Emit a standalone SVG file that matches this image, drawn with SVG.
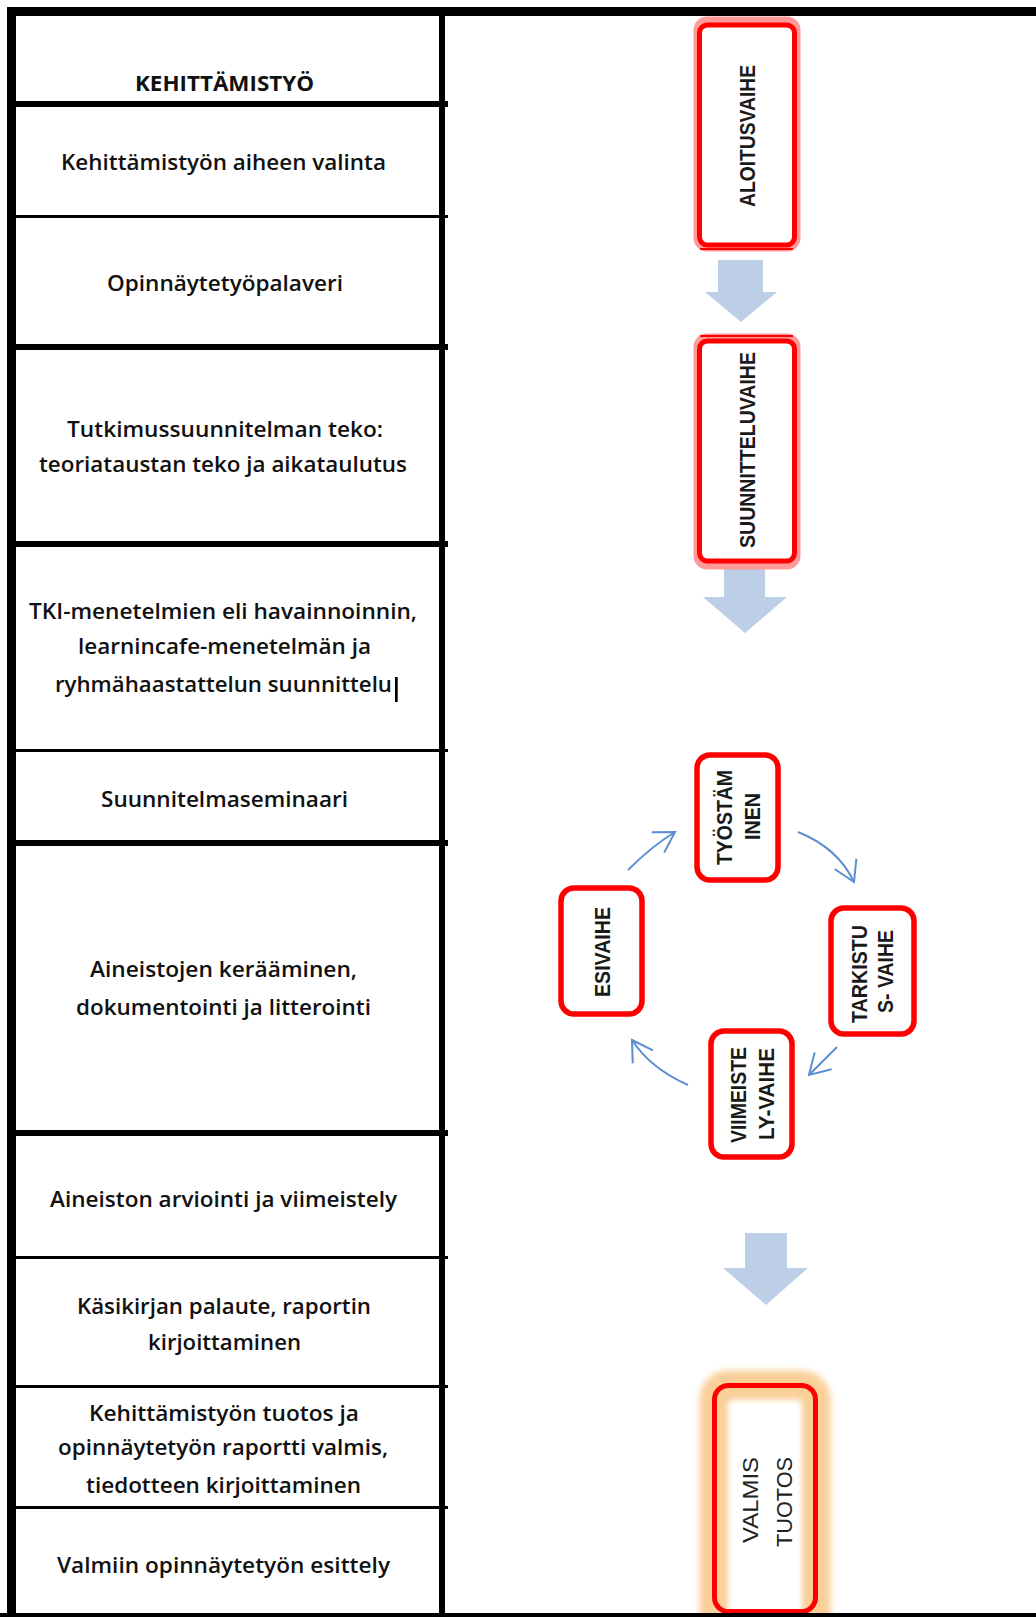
<svg xmlns="http://www.w3.org/2000/svg" width="1036" height="1617" viewBox="0 0 1036 1617">
<style>
.cell{font-family:"Open Sans","Liberation Sans",sans-serif;font-size:21px;font-weight:600;fill:#111}
.hdr{font-weight:700}
.vt{font-family:"Liberation Sans Narrow","Liberation Sans",sans-serif;font-size:22px;font-weight:700;fill:#1a1a1a}
.vt2{font-family:"Liberation Sans Narrow","Liberation Sans",sans-serif;font-size:22px;fill:#222}
.halo{fill:none;stroke:#ff9a9a;stroke-width:9}
.red{fill:#fff;stroke:#ff0000;stroke-width:5}
.redc{fill:#fff;stroke:#ff0000;stroke-width:5.5}
.blk{fill:#bdcfe7}
.cyc{fill:none;stroke:#5b8fd1;stroke-width:2;marker-end:url(#open)}
</style>
<defs>
<marker id="open" markerUnits="userSpaceOnUse" markerWidth="26" markerHeight="28" refX="21" refY="13" orient="auto">
<path d="M1,1 L21,13 L1,25" fill="none" stroke="#5b8fd1" stroke-width="2"/>
</marker>
<filter id="glow" x="-30%" y="-30%" width="160%" height="160%"><feGaussianBlur stdDeviation="3"/></filter>
</defs>
<rect width="1036" height="1617" fill="#fff"/>

<g id="table">
<rect x="7" y="7" width="1029" height="9" fill="#000"/>
<rect x="7" y="7" width="9" height="1610" fill="#000"/>
<rect x="439" y="16" width="6" height="1597" fill="#000"/>
<rect x="16" y="101" width="432" height="6" fill="#000"/>
<rect x="16" y="215" width="432" height="3" fill="#000"/>
<rect x="16" y="344" width="432" height="6" fill="#000"/>
<rect x="16" y="541" width="432" height="6" fill="#000"/>
<rect x="16" y="749" width="432" height="3" fill="#000"/>
<rect x="16" y="840" width="432" height="6" fill="#000"/>
<rect x="16" y="1130" width="432" height="6" fill="#000"/>
<rect x="16" y="1256" width="432" height="3" fill="#000"/>
<rect x="16" y="1385" width="432" height="3" fill="#000"/>
<rect x="16" y="1506" width="432" height="3" fill="#000"/>
</g>

<g id="row-header"><text class="cell hdr" x="135" y="91" textLength="179" lengthAdjust="spacingAndGlyphs">KEHITTÄMISTYÖ</text></g>
<g id="row-1"><text class="cell" x="61" y="170" textLength="325" lengthAdjust="spacingAndGlyphs">Kehittämistyön aiheen valinta</text></g>
<g id="row-2"><text class="cell" x="107" y="291" textLength="236" lengthAdjust="spacingAndGlyphs">Opinnäytetyöpalaveri</text></g>
<g id="row-3">
<text class="cell" x="67" y="437" textLength="316" lengthAdjust="spacingAndGlyphs">Tutkimussuunnitelman teko:</text>
<text class="cell" x="39" y="472" textLength="368" lengthAdjust="spacingAndGlyphs">teoriataustan teko ja aikataulutus</text>
</g>
<g id="row-4">
<text class="cell" x="29" y="619" textLength="388" lengthAdjust="spacingAndGlyphs">TKI-menetelmien eli havainnoinnin,</text>
<text class="cell" x="78" y="654" textLength="293" lengthAdjust="spacingAndGlyphs">learnincafe-menetelmän ja</text>
<text class="cell" x="55" y="692" textLength="337" lengthAdjust="spacingAndGlyphs">ryhmähaastattelun suunnittelu</text>
<rect x="395" y="677" width="2.7" height="25" fill="#000"/>
</g>
<g id="row-5"><text class="cell" x="101" y="807" textLength="247" lengthAdjust="spacingAndGlyphs">Suunnitelmaseminaari</text></g>
<g id="row-6">
<text class="cell" x="90" y="977" textLength="267" lengthAdjust="spacingAndGlyphs">Aineistojen kerääminen,</text>
<text class="cell" x="76" y="1015" textLength="295" lengthAdjust="spacingAndGlyphs">dokumentointi ja litterointi</text>
</g>
<g id="row-7"><text class="cell" x="50" y="1207" textLength="347" lengthAdjust="spacingAndGlyphs">Aineiston arviointi ja viimeistely</text></g>
<g id="row-8">
<text class="cell" x="77" y="1314" textLength="294" lengthAdjust="spacingAndGlyphs">Käsikirjan palaute, raportin</text>
<text class="cell" x="148" y="1350" textLength="153" lengthAdjust="spacingAndGlyphs">kirjoittaminen</text>
</g>
<g id="row-9">
<text class="cell" x="89" y="1421" textLength="270" lengthAdjust="spacingAndGlyphs">Kehittämistyön tuotos ja</text>
<text class="cell" x="58" y="1455" textLength="330" lengthAdjust="spacingAndGlyphs">opinnäytetyön raportti valmis,</text>
<text class="cell" x="86" y="1493" textLength="275" lengthAdjust="spacingAndGlyphs">tiedotteen kirjoittaminen</text>
</g>
<g id="row-10"><text class="cell" x="57" y="1573" textLength="333" lengthAdjust="spacingAndGlyphs">Valmiin opinnäytetyön esittely</text></g>

<g id="connectors">
<path class="blk" d="M718,260 H763 V292 H777 L741,322 L705,292 H718 Z"/>
<path class="blk" d="M724,556 H765 V597 H787 L745,633 L703,597 H724 Z"/>
<path class="blk" d="M745,1233 H787 V1268 H808 L766,1305 L723,1268 H745 Z"/>
<path class="cyc" d="M628,870 Q652,846 675,832"/>
<path class="cyc" d="M798,832 Q838,848 854,882"/>
<path class="cyc" d="M837,1047 L809,1075"/>
<path class="cyc" d="M688,1085 Q650,1068 632,1040"/>
</g>

<g id="aloitusvaihe">
<rect class="halo" x="698" y="21" width="98" height="226" rx="9"/>
<rect class="red" x="699.5" y="25" width="95" height="220" rx="8"/>
<rect x="700" y="248" width="93" height="2" fill="#ff0000"/>
<text class="vt" transform="translate(755,136) rotate(-90)" text-anchor="middle" textLength="142" lengthAdjust="spacingAndGlyphs">ALOITUSVAIHE</text>
</g>

<g id="suunnitteluvaihe">
<rect class="halo" x="698" y="338" width="98" height="227" rx="9"/>
<rect x="700" y="335" width="93" height="2" fill="#ff0000"/>
<rect class="red" x="699.5" y="341" width="95" height="220" rx="8"/>
<text class="vt" transform="translate(755,450) rotate(-90)" text-anchor="middle" textLength="196" lengthAdjust="spacingAndGlyphs">SUUNNITTELUVAIHE</text>
</g>

<g id="tyostaminen">
<rect class="redc" x="697" y="755" width="81" height="125" rx="13"/>
<text class="vt" transform="translate(732,817.5) rotate(-90)" text-anchor="middle" textLength="95" lengthAdjust="spacingAndGlyphs">TYÖSTÄM</text>
<text class="vt" transform="translate(760,816.5) rotate(-90)" text-anchor="middle" textLength="47" lengthAdjust="spacingAndGlyphs">INEN</text>
</g>

<g id="esivaihe">
<rect class="redc" x="561" y="888" width="81" height="126" rx="13"/>
<text class="vt" transform="translate(610,952) rotate(-90)" text-anchor="middle" textLength="90" lengthAdjust="spacingAndGlyphs">ESIVAIHE</text>
</g>

<g id="tarkistusvaihe">
<rect class="redc" x="831" y="908" width="83" height="126" rx="13"/>
<text class="vt" transform="translate(867,974) rotate(-90)" text-anchor="middle" textLength="98" lengthAdjust="spacingAndGlyphs">TARKISTU</text>
<text class="vt" transform="translate(893,971.5) rotate(-90)" text-anchor="middle" textLength="83" lengthAdjust="spacingAndGlyphs">S- VAIHE</text>
</g>

<g id="viimeistelyvaihe">
<rect class="redc" x="711" y="1031" width="81" height="126" rx="13"/>
<text class="vt" transform="translate(746,1095) rotate(-90)" text-anchor="middle" textLength="96" lengthAdjust="spacingAndGlyphs">VIIMEISTE</text>
<text class="vt" transform="translate(774,1094) rotate(-90)" text-anchor="middle" textLength="92" lengthAdjust="spacingAndGlyphs">LY-VAIHE</text>
</g>

<g id="valmis-tuotos">
<rect x="714.5" y="1385.5" width="101" height="240" rx="14" fill="#fff"/>
<rect x="714.5" y="1385.5" width="101" height="240" rx="14" fill="none" stroke="#fbcf98" stroke-width="30" filter="url(#glow)"/>
<rect x="730" y="1403" width="70" height="230" fill="#fff" filter="url(#glow)"/>
<rect x="714.5" y="1385.5" width="101" height="226" rx="14" fill="none" stroke="#ff0000" stroke-width="5"/>
<text class="vt2" transform="translate(758,1500) rotate(-90)" text-anchor="middle" textLength="86" lengthAdjust="spacingAndGlyphs">VALMIS</text>
<text class="vt2" transform="translate(792,1502) rotate(-90)" text-anchor="middle" textLength="90" lengthAdjust="spacingAndGlyphs">TUOTOS</text>
</g>
<rect x="0" y="1613" width="1036" height="4" fill="#000"/>
</svg>
